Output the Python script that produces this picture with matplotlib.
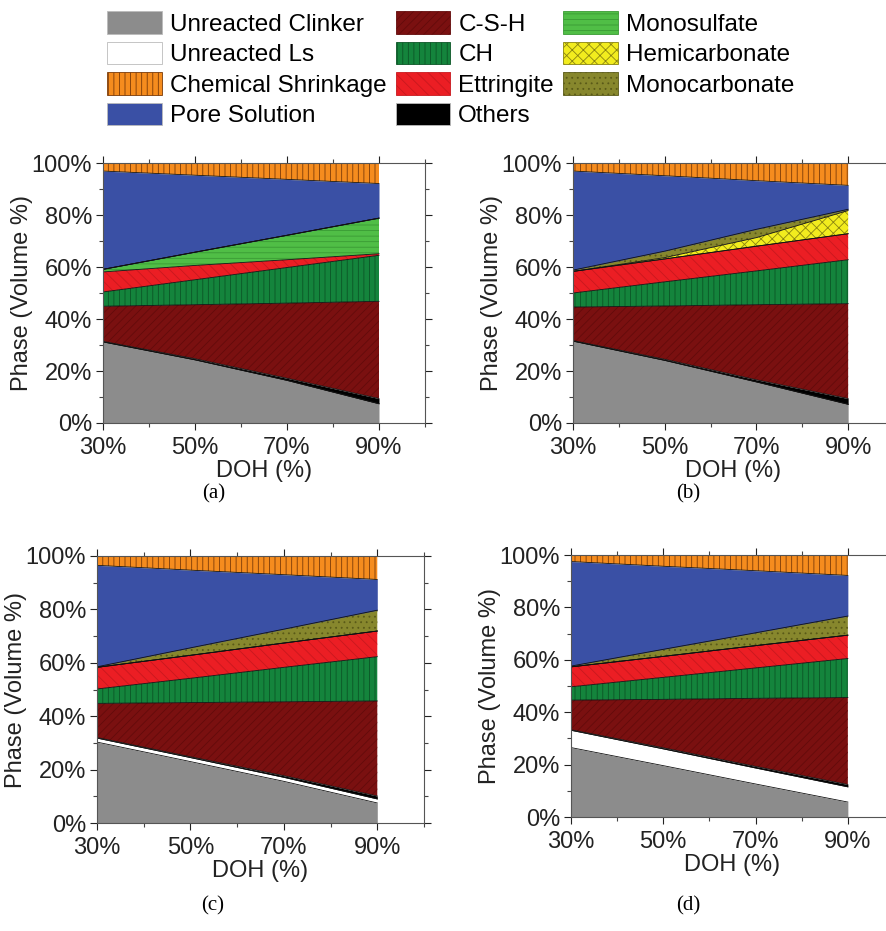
import matplotlib.pyplot as plt
import numpy as np
from matplotlib.patches import Patch
from matplotlib.ticker import FixedLocator, FuncFormatter

plt.rcParams['font.family'] = ['Liberation Sans', 'DejaVu Sans']
plt.rcParams['hatch.linewidth'] = 0.6

# degree of hydration (%)
doh = [30, 50, 70, 90]
captions = ['(a)', '(b)', '(c)', '(d)']
x_major = [30, 50, 70, 90]
x_minor = [40, 60, 80, 100]

# phase volume (%) — one row per panel (a-d), values at DOH 30/50/70/90
clinker = [[31.2, 24.3, 16.4, 7.4],
           [31.5, 24.1, 15.8, 7.2],
           [30.3, 23.0, 15.6, 7.5],
           [26.5, 19.6, 12.6, 5.7]]
ls = [[0, 0, 0, 0],
      [0, 0, 0, 0],
      [1.5, 1.5, 1.5, 1.5],
      [6.6, 6.4, 6.1, 5.8]]
others = [[0.2, 0.4, 0.8, 2.0],
          [0.2, 0.4, 0.8, 2.2],
          [0.2, 0.3, 0.6, 1.1],
          [0.2, 0.4, 0.6, 0.9]]
csh = [[13.5, 20.8, 28.9, 37.4],
       [12.9, 20.5, 28.9, 36.5],
       [12.8, 20.3, 27.7, 35.6],
       [11.3, 18.5, 26.0, 33.2]]
ch = [[5.5, 9.6, 13.7, 17.7],
      [5.4, 9.3, 13.0, 16.9],
      [5.4, 9.1, 12.9, 16.6],
      [5.1, 8.4, 11.6, 14.9]]
ettringite = [[7.7, 5.5, 3.0, 0.6],
              [8.3, 8.8, 9.5, 10.0],
              [8.1, 8.6, 9.1, 9.6],
              [7.6, 8.0, 8.5, 8.9]]
monosulfate = [[1.0, 5.1, 9.4, 13.7],
               [0, 0, 0, 0],
               [0, 0, 0, 0],
               [0, 0, 0, 0]]
hemicarbonate = [[0, 0, 0, 0],
                 [0, 0.5, 3.3, 8.9],
                 [0, 0, 0, 0],
                 [0, 0, 0, 0]]
monocarbonate = [[0, 0, 0, 0],
                 [0.5, 2.5, 3.2, 0.5],
                 [0.2, 2.8, 5.2, 7.8],
                 [0.3, 2.7, 4.9, 7.3]]
pore = [[37.8, 29.6, 21.5, 13.3],
        [38.1, 29.0, 18.7, 9.2],
        [38.0, 29.1, 20.4, 11.5],
        [39.9, 31.7, 23.7, 15.5]]
shrinkage = [[3.1, 4.7, 6.3, 7.9],
             [3.1, 4.9, 6.8, 8.6],
             [3.5, 5.3, 7.0, 8.8],
             [2.5, 4.3, 6.0, 7.8]]

# stacking order (bottom to top): name, data, face, hatch colour, hatch
layers = [
    ('Unreacted Clinker', clinker, '#8c8c8c', '#8c8c8c', None),
    ('Unreacted Ls', ls, '#ffffff', '#ffffff', None),
    ('Others', others, '#000000', '#000000', None),
    ('C-S-H', csh, '#7a1010', '#630b0b', '////'),
    ('CH', ch, '#14843c', '#0b5526', '|||'),
    ('Ettringite', ettringite, '#eb1e24', '#c8181e', '\\\\\\'),
    ('Monosulfate', monosulfate, '#50be46', '#3a9a34', '---'),
    ('Hemicarbonate', hemicarbonate, '#f2ec1e', '#8a8410', 'xxx'),
    ('Monocarbonate', monocarbonate, '#87872d', '#5a5a18', '...'),
    ('Pore Solution', pore, '#3a50a5', '#3a50a5', None),
    ('Chemical Shrinkage', shrinkage, '#f58c1e', '#7a3a08', '|||'),
]
style = {name: (fc, hc, h) for name, _, fc, hc, h in layers}

fig = plt.figure(figsize=(8.87, 9.31), dpi=100)
W, H = 887, 931
# axes boxes in pixels: x at DOH 30, x at DOH 100, y at 100 %, y at 0 %
boxes = [(103, 425, 163, 423), (573, 894, 163, 423),
         (97, 424, 556, 823), (571, 894, 555, 817)]
cap_pos = [(214, 494), (688, 494), (213, 906), (688, 906)]

for i, (x0, x1, y0, y1) in enumerate(boxes):
    ax = fig.add_axes([x0 / W, 1 - y1 / H, (x1 - x0) / W, (y1 - y0) / H])
    base = np.zeros(len(doh))
    for name, data, fc, hc, h in layers:
        top = base + np.array(data[i], dtype=float)
        ax.fill_between(doh, base, top, facecolor=fc, edgecolor=hc,
                        hatch=h, linewidth=0)
        if name != 'Unreacted Clinker':
            ax.plot(doh, base, color='#111111', lw=0.6)
        base = top

    ax.set_xlim(30, 100)
    ax.set_ylim(0, 100)
    ax.xaxis.set_major_locator(FixedLocator(x_major))
    ax.xaxis.set_minor_locator(FixedLocator(x_minor))
    ax.set_yticks(range(0, 101, 20))
    ax.set_yticks(range(10, 100, 20), minor=True)
    ax.xaxis.set_major_formatter(FuncFormatter(lambda v, p: f'{v:.0f}%'))
    ax.yaxis.set_major_formatter(FuncFormatter(lambda v, p: f'{v:.0f}%'))
    ax.tick_params(which='both', direction='out', top=True, right=True,
                   color='#444444', width=0.8)
    ax.tick_params(which='major', length=5, labelsize=17, colors='#222222')
    ax.tick_params(axis='x', which='major', pad=5)
    ax.tick_params(axis='y', which='major', pad=3)
    ax.tick_params(which='minor', length=3)
    for s in ax.spines.values():
        s.set_color('#555555')
        s.set_linewidth(0.8)
    ax.set_xlabel('DOH (%)', fontsize=17, color='#222222', labelpad=1)
    ax.set_ylabel('Phase (Volume %)', fontsize=17, color='#222222',
                  labelpad=-1)

    fig.text(cap_pos[i][0] / W, 1 - cap_pos[i][1] / H, captions[i],
             family='Liberation Serif', fontsize=15, ha='center', va='center')

legend_order = ['Unreacted Clinker', 'Unreacted Ls', 'Chemical Shrinkage',
                'Pore Solution', 'C-S-H', 'CH', 'Ettringite', 'Others',
                'Monosulfate', 'Hemicarbonate', 'Monocarbonate']
handles = []
for name in legend_order:
    fc, hc, h = style[name]
    handles.append(Patch(facecolor=fc, edgecolor=hc if h else '#bbbbbb',
                         hatch=h, linewidth=0.6, label=name))
fig.legend(handles=handles, loc='upper left', ncol=3, frameon=False,
           bbox_to_anchor=(107 / W, 1 - 11 / H), borderpad=0, borderaxespad=0,
           fontsize=17.5, handlelength=2.25, handleheight=1.07,
           handletextpad=0.33, columnspacing=0.38, labelspacing=0.24)

fig.savefig('out.png', dpi=100)
